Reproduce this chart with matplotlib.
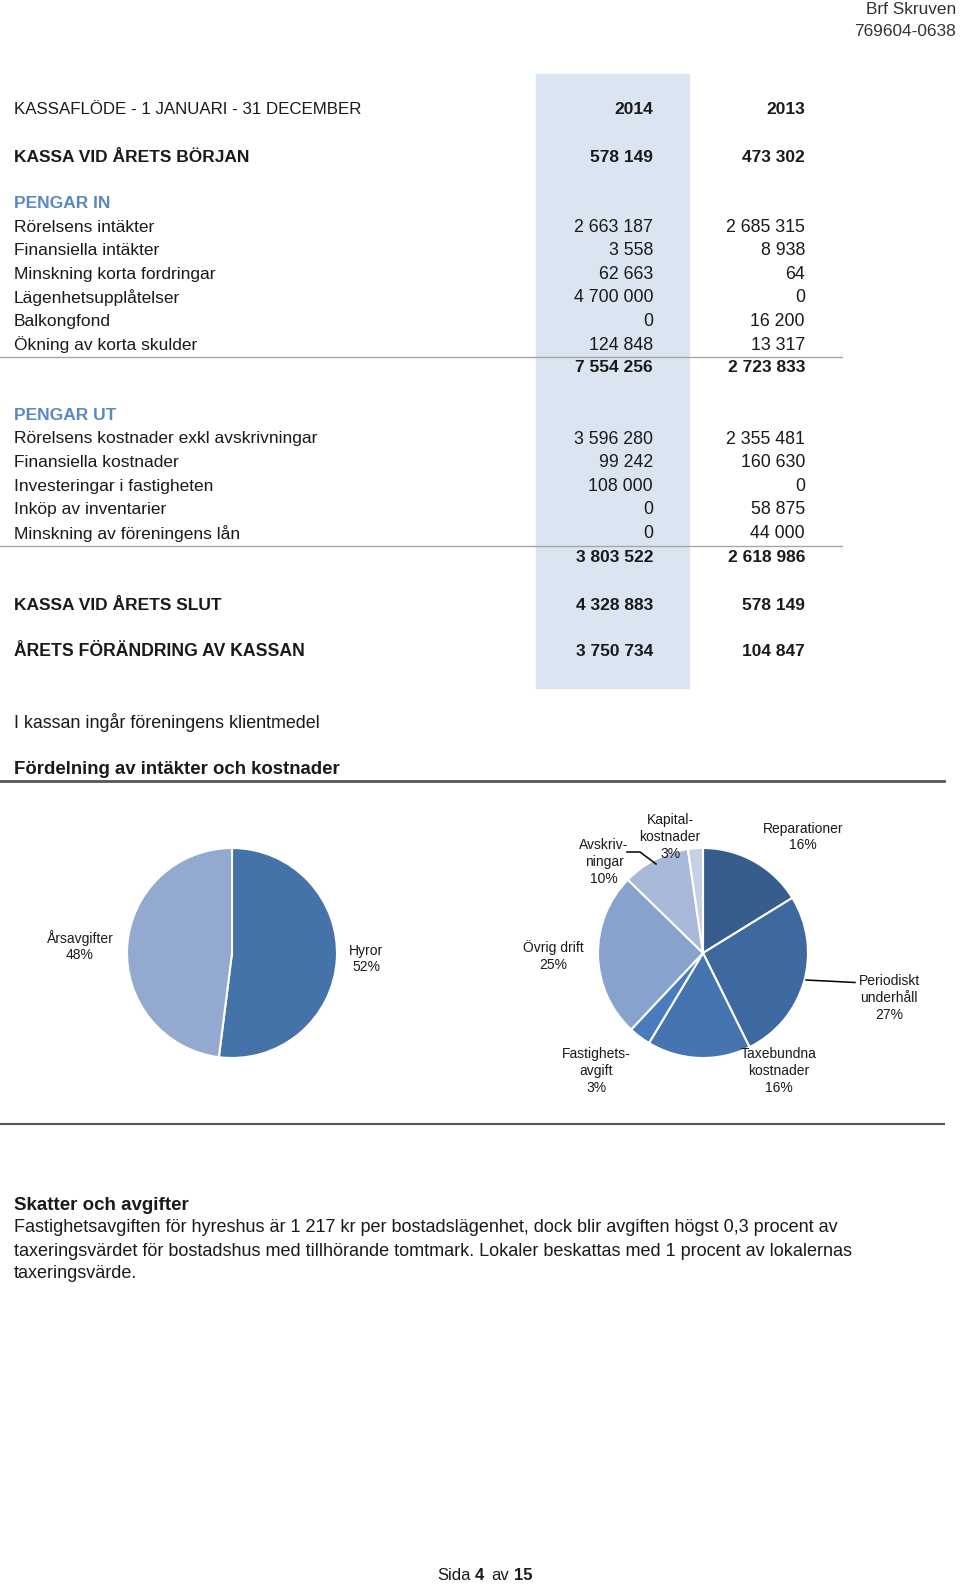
import matplotlib
matplotlib.use("Agg")
import matplotlib.pyplot as plt
from matplotlib.patches import Rectangle

# ---- data ----
years = ["2014", "2013"]
start_cash = [578149, 473302]

in_labels = ["Rörelsens intäkter", "Finansiella intäkter", "Minskning korta fordringar",
             "Lägenhetsupplåtelser", "Balkongfond", "Ökning av korta skulder"]
in_2014 = [2663187, 3558, 62663, 4700000, 0, 124848]
in_2013 = [2685315, 8938, 64, 0, 16200, 13317]
in_total = [7554256, 2723833]

out_labels = ["Rörelsens kostnader exkl avskrivningar", "Finansiella kostnader",
              "Investeringar i fastigheten", "Inköp av inventarier", "Minskning av föreningens lån"]
out_2014 = [3596280, 99242, 108000, 0, 0]
out_2013 = [2355481, 160630, 0, 58875, 44000]
out_total = [3803522, 2618986]

end_cash = [4328883, 578149]
change = [3750734, 104847]

inc_labels = ["Hyror\n52%", "Årsavgifter\n48%"]
inc_values = [52, 48]

cost_labels = ["Reparationer\n16%", "Periodiskt\nunderhåll\n27%", "Taxebundna\nkostnader\n16%",
               "Fastighets-\navgift\n3%", "Övrig drift\n25%", "Avskriv-\nningar\n10%",
               "Kapital-\nkostnader\n3%"]
cost_values = [16.2, 26.5, 15.9, 3.4, 25.3, 10.4, 2.3]

W, H = 960, 1587
TXT = "#1a1a1a"
BLUE = "#5a87c6"
FONT = ["Liberation Sans", "DejaVu Sans"]
FS = 12.5


def fmt(n):
    return f"{n:,}".replace(",", " ")


fig = plt.figure(figsize=(W / 100, H / 100), dpi=100)
bg = fig.add_axes([0, 0, 1, 1])
bg.set_xlim(0, W)
bg.set_ylim(H, 0)
bg.axis("off")
bg.set_zorder(5)
bg.patch.set_alpha(0)


def T(x, y, s, ha="left", bold=False, color=TXT, size=FS, **kw):
    bg.text(x, y, s, ha=ha, va="center", fontsize=size, color=color,
            fontweight="bold" if bold else "normal", family=FONT, **kw)


# header
T(956, 9, "Brf Skruven", ha="right", color="#333333", size=12.4)
T(956, 31, "769604-0638", ha="right", color="#333333", size=12.4)

# shaded 2014 column
bg.add_patch(Rectangle((536, 74), 153, 614, color="#dbe5f2", zorder=0))

X1, X2 = 653, 805
T(14, 109, "KASSAFLÖDE - 1 JANUARI - 31 DECEMBER", size=12.2)
T(X1, 109, years[0], ha="right", bold=True)
T(X2, 109, years[1], ha="right", bold=True)

T(14, 157, "KASSA VID ÅRETS BÖRJAN", bold=True)
T(X1, 157, fmt(start_cash[0]), ha="right", bold=True)
T(X2, 157, fmt(start_cash[1]), ha="right", bold=True)

T(14, 203, "PENGAR IN", bold=True, color=BLUE)
for i, lab in enumerate(in_labels):
    y = 227 + i * 23.6
    T(14, y, lab)
    T(X1, y, fmt(in_2014[i]), ha="right", size=12.8)
    T(X2, y, fmt(in_2013[i]), ha="right", size=12.8)
bg.plot([0, 842], [357, 357], color="#a6a6a6", lw=1)
T(X1, 368, fmt(in_total[0]), ha="right", bold=True)
T(X2, 368, fmt(in_total[1]), ha="right", bold=True)

T(14, 416, "PENGAR UT", bold=True, color=BLUE)
for i, lab in enumerate(out_labels):
    y = 439 + i * 23.6
    T(14, y, lab)
    T(X1, y, fmt(out_2014[i]), ha="right", size=12.8)
    T(X2, y, fmt(out_2013[i]), ha="right", size=12.8)
bg.plot([0, 842], [546, 546], color="#a6a6a6", lw=1)
T(X1, 557, fmt(out_total[0]), ha="right", bold=True)
T(X2, 557, fmt(out_total[1]), ha="right", bold=True)

T(14, 605, "KASSA VID ÅRETS SLUT", bold=True)
T(X1, 605, fmt(end_cash[0]), ha="right", bold=True)
T(X2, 605, fmt(end_cash[1]), ha="right", bold=True)

T(14, 651, "ÅRETS FÖRÄNDRING AV KASSAN", bold=True, size=12.7)
T(X1, 651, fmt(change[0]), ha="right", bold=True)
T(X2, 651, fmt(change[1]), ha="right", bold=True)

T(14, 722, "I kassan ingår föreningens klientmedel", size=12.9)
T(14, 769, "Fördelning av intäkter och kostnader", bold=True, size=13.4)
bg.plot([0, 944], [781, 781], color="#555555", lw=2)
bg.plot([0, 944], [1124, 1124], color="#555555", lw=1.5)


# ---- pies ----
def pie_ax(cx, cy, r):
    ax = fig.add_axes([(cx - r) / W, 1 - (cy + r) / H, 2 * r / W, 2 * r / H])
    return ax


R = 105
ax1 = pie_ax(232, 953, R)
ax1.pie(inc_values, colors=["#4572a8", "#94a9d0"], startangle=90, counterclock=False,
        wedgeprops=dict(edgecolor="white", linewidth=1.5))
ax1.set_xlim(-1, 1)
ax1.set_ylim(-1, 1)
ax1.axis("off")

ax2 = pie_ax(703, 953, R)
ax2.pie(cost_values,
        colors=["#375d8c", "#3d68a0", "#4574b0", "#4a7bbf", "#87a2cd", "#a7b8d8", "#c6d1e6"],
        startangle=90, counterclock=False,
        wedgeprops=dict(edgecolor="white", linewidth=1.5))
ax2.set_xlim(-1, 1)
ax2.set_ylim(-1, 1)
ax2.axis("off")

PS = 10
T(366, 959, inc_labels[0], ha="center", size=PS, linespacing=1.25)
T(80, 946, inc_labels[1], ha="center", size=PS, linespacing=1.25)

pie_lab_pos = [(803, 837), (889, 998), (779, 1071), (596, 1071),
               (553, 956), (604, 862), (670, 837)]
for (x, y), lab in zip(pie_lab_pos, cost_labels):
    T(x, y, lab, ha="center", size=PS, linespacing=1.25)

bg.plot([627, 640, 656], [852, 852, 864], color="black", lw=1.1)
bg.plot([806, 855], [980, 982.5], color="black", lw=1.1)

# ---- text block ----
T(14, 1205, "Skatter och avgifter", bold=True, size=13.5)
para = ["Fastighetsavgiften för hyreshus är 1 217 kr per bostadslägenhet, dock blir avgiften högst 0,3 procent av",
        "taxeringsvärdet för bostadshus med tillhörande tomtmark. Lokaler beskattas med 1 procent av lokalernas",
        "taxeringsvärde."]
for i, line in enumerate(para):
    T(14, 1228 + i * 23, line, size=13)

# footer
T(437, 1576, "Sida", size=12)
T(475, 1576, "4", bold=True, size=12)
T(491, 1576, "av", size=12)
T(514, 1576, "15", bold=True, size=12)

fig.savefig("out.png", dpi=100)
